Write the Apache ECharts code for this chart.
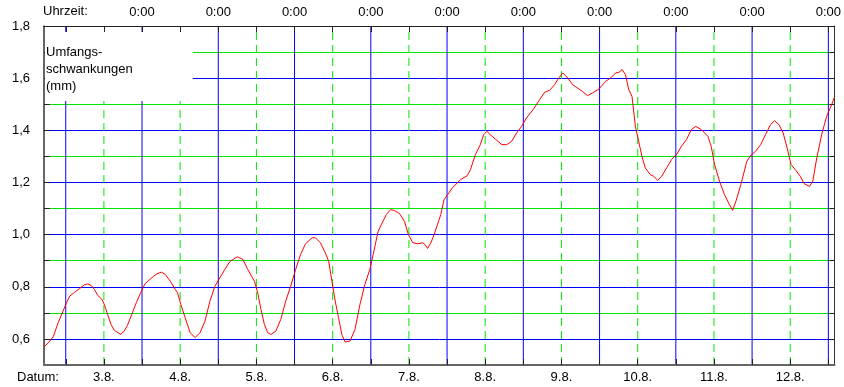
<!DOCTYPE html>
<html><head><meta charset="utf-8">
<script src="https://cdn.jsdelivr.net/npm/echarts@6/dist/echarts.min.js"></script>
<style>html,body{margin:0;padding:0;background:#fff}#c{width:844px;height:387px}</style>
</head><body><div id="c"></div>
<script>
// hours relative to 3.8. 0:00
const hours = [-6.85,-5.51,-3.95,-2.40,-0.84,0.22,1.25,2.80,4.36,5.92,6.94,8.00,9.03,10.06,11.43,12.14,13.17,14.23,15.26,17.34,18.37,19.40,20.96,22.20,23.57,24.91,26.16,27.71,28.74,30.11,31.36,32.91,34.47,35.19,36.22,37.59,39.14,40.70,42.26,43.81,45.37,46.93,48.48,50.04,51.60,52.94,53.97,55.74,57.30,59.38,60.41,61.44,62.50,63.53,64.55,66.11,67.67,69.22,70.78,72.34,73.90,75.45,77.54,78.57,80.12,81.68,82.74,83.77,84.80,85.85,86.88,87.91,89.46,91.02,92.58,94.14,95.69,96.75,98.31,99.34,100.89,102.23,103.48,105.03,106.59,107.84,109.21,110.76,112.32,113.04,113.88,114.91,115.93,116.99,118.02,119.05,121.66,124.25,126.33,127.36,128.92,130.47,131.50,132.56,133.59,135.15,137.23,138.79,140.35,141.90,143.46,145.02,147.07,149.16,150.72,152.27,153.83,155.17,156.42,157.97,159.53,160.59,162.64,164.20,165.76,167.84,169.93,171.48,173.04,174.07,175.10,176.16,177.18,178.21,179.27,180.30,181.33,182.39,183.94,184.97,186.31,187.55,189.11,190.67,192.22,193.78,195.34,196.90,198.27,200.01,202.10,203.13,204.19,205.74,207.30,208.86,209.88,210.91,212.47,214.34,215.58,217.14,218.70,220.25,221.81,223.06,224.43,225.77,227.01,228.26,229.60,231.15,232.40,234.08,235.11,236.35,237.91,239.47,241.02,241.9];
const values = [0.569,0.585,0.608,0.662,0.707,0.739,0.764,0.779,0.793,0.808,0.811,0.805,0.790,0.767,0.751,0.732,0.694,0.656,0.633,0.617,0.630,0.652,0.700,0.739,0.777,0.811,0.825,0.841,0.850,0.856,0.847,0.821,0.790,0.777,0.732,0.681,0.624,0.605,0.624,0.668,0.745,0.802,0.834,0.866,0.896,0.907,0.915,0.905,0.866,0.821,0.777,0.713,0.656,0.624,0.617,0.630,0.675,0.745,0.802,0.866,0.924,0.965,0.988,0.988,0.969,0.930,0.898,0.821,0.745,0.681,0.617,0.588,0.592,0.636,0.732,0.809,0.866,0.924,1.013,1.039,1.077,1.096,1.092,1.081,1.051,1.000,0.969,0.965,0.969,0.962,0.947,0.969,1.000,1.039,1.077,1.134,1.179,1.211,1.226,1.249,1.307,1.345,1.383,1.396,1.383,1.367,1.345,1.345,1.358,1.390,1.415,1.448,1.479,1.518,1.546,1.553,1.575,1.601,1.620,1.601,1.575,1.566,1.549,1.533,1.543,1.559,1.588,1.601,1.620,1.622,1.633,1.613,1.556,1.530,1.415,1.358,1.300,1.256,1.230,1.224,1.208,1.224,1.256,1.288,1.307,1.339,1.364,1.403,1.415,1.403,1.377,1.339,1.269,1.205,1.154,1.115,1.093,1.128,1.192,1.281,1.304,1.320,1.345,1.384,1.422,1.437,1.422,1.390,1.333,1.269,1.249,1.224,1.195,1.185,1.205,1.294,1.384,1.454,1.498,1.526];
const midnightHours = [0,24,48,72,96,120,144,168,192,216,240];
const noonHours = [12,36,60,84,108,132,156,180,204,228];
const dateLabels = ['3.8.','4.8.','5.8.','6.8.','7.8.','8.8.','9.8.','10.8.','11.8.','12.8.'];
const timeLabel = '0:00';
const halfDayHours = midnightHours.concat(noonHours).sort((a,b)=>a-b);
const X_MIN = -6.85, X_MAX = 241.96;
const Y_MIN = 0.5, Y_MAX = 1.8, Y_STEP = 0.1;

// vertical grid lines as gapped segments through the axes
function verticals(list){
  const out = [];
  list.forEach(h => { out.push([h, Y_MIN], [h, Y_MAX], [h, null]); });
  return out;
}

const FONT = 'Liberation Sans, Arial, sans-serif';
const chart = echarts.init(document.getElementById('c'), null, {renderer:'canvas'});
chart.setOption({
  animation:false,
  backgroundColor:'#fff',
  textStyle:{fontFamily:FONT},
  title:{text:'Umfangs-\nschwankungen\n(mm)', left:45, top:32, backgroundColor:'#fff', padding:[12,60,6,1],
    textStyle:{fontSize:13, fontWeight:'normal', fontFamily:FONT, lineHeight:17, color:'#000'}},
  grid:{left:44, right:1, top:26, bottom:22, containLabel:false},
  xAxis:[
    {type:'value', position:'bottom', min:X_MIN, max:X_MAX, z:3,
     axisLine:{show:true, onZero:false, lineStyle:{color:'#666', width:2}},
     axisTick:{show:true, inside:true, length:6, customValues:halfDayHours, lineStyle:{color:'#222'}},
     axisLabel:{show:true, customValues:noonHours, color:'#000', fontSize:13, margin:6,
       formatter:v=>{const i=noonHours.indexOf(Math.round(v)); return i>=0?dateLabels[i]:'';}},
     splitLine:{show:false}},
    {type:'value', position:'top', min:X_MIN, max:X_MAX, z:3,
     axisLine:{show:true, onZero:false, lineStyle:{color:'#222', width:1}},
     axisTick:{show:true, inside:true, length:6, customValues:halfDayHours, lineStyle:{color:'#222'}},
     axisLabel:{show:true, customValues:midnightHours.slice(1), color:'#000', fontSize:13, margin:7, formatter:()=>timeLabel},
     splitLine:{show:false}}
  ],
  yAxis:[
    {type:'value', position:'left', min:Y_MIN, max:Y_MAX, interval:Y_STEP,
     axisLine:{show:true, onZero:false, lineStyle:{color:'#333', width:1.5}},
     axisTick:{show:true, inside:true, length:6, lineStyle:{color:'#222'}},
     axisLabel:{color:'#000', fontSize:13, margin:14,
       formatter:v=>{const t=Math.round(v*10); return t%2===0 ? (t/10).toFixed(1).replace('.',',') : '';}},
     splitLine:{show:true, showMinLine:true, showMaxLine:true, lineStyle:{color:['#00e600','#0000ff'], width:1}}},
    {type:'value', position:'right', min:Y_MIN, max:Y_MAX, interval:Y_STEP,
     axisLine:{show:true, onZero:false, lineStyle:{color:'#333', width:1}},
     axisTick:{show:true, inside:true, length:5, lineStyle:{color:'#222'}},
     axisLabel:{show:false}, splitLine:{show:false}}
  ],
  graphic:[
    {type:'text', left:43, top:5, z:10, style:{text:'Uhrzeit:', font:'13px '+FONT, fill:'#000'}},
    {type:'text', left:17, top:371, z:10, style:{text:'Datum:', font:'13px '+FONT, fill:'#000'}}
  ],
  series:[
    {name:'midnight', type:'line', data:verticals(midnightHours), z:1, silent:true, connectNulls:false,
     showSymbol:false, symbol:'none', color:'#0000ff', lineStyle:{color:'#0000ff', width:1, type:'solid'}},
    {name:'noon', type:'line', data:verticals(noonHours), z:1, silent:true, connectNulls:false,
     showSymbol:false, symbol:'none', color:'#00e600', lineStyle:{color:'#00e600', width:1, type:[8,5]}},
    {name:'Umfang', type:'line', data: hours.map((h,i)=>[h, values[i]]), showSymbol:false, symbol:'none', z:5,
     color:'#ff0000', lineStyle:{color:'#ff0000', width:1}}
  ]
});
</script></body></html>
